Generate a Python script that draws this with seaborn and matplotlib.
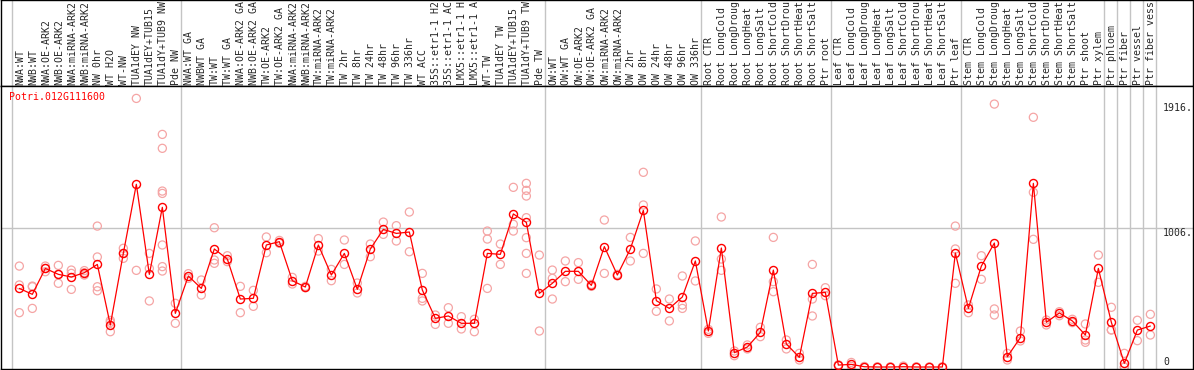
import matplotlib
matplotlib.use("Agg")  # Non-interactive backend
import matplotlib.pyplot as plt
import matplotlib.transforms as mtransforms
import seaborn as sns
import pandas as pd
import numpy as np

# ── Data ──────────────────────────────────────────────────────────
GENE = "Potri.012G111600"

# names as printed in the (narrow) header strip
samples = [
    "NWA:WT", "NWB:WT", "NWA:OE-ARK2", "NWB:OE-ARK2", "NWA:miRNA-ARK2", "NWB:miRNA-ARK2",
    "NW 0hr", "WT H2O", "WT-NW", "TUA1dEY NW", "TUA1dEY+TUB15", "TUA1dY+TUB9 NW", "Pde NW",
    "NWA:WT GA", "NWBWT GA", "TW:WT", "TW:WT GA", "NWA:OE-ARK2 GA", "NWB:OE-ARK2 GA",
    "TW:OE-ARK2", "TW:OE-ARK2 GA", "NWA:miRNA-ARK2", "NWB:miRNA-ARK2", "TW:miRNA-ARK2",
    "TW:miRNA-ARK2", "TW 2hr", "TW 8hr", "TW 24hr", "TW 48hr", "TW 96hr", "TW 336hr", "WT ACC",
    "35S::etr1-1 H2", "35S::etr1-1 AC", "LMX5::etr1-1 H", "LMX5::etr1-1 A", "WT-TW",
    "TUA1dEY TW", "TUA1dEY+TUB15", "TUA1dY+TUB9 TW", "Pde TW",
    "OW:WT", "OW:WT GA", "OW:OE-ARK2", "OW:OE-ARK2 GA", "OW:miRNA-ARK2", "OW:miRNA-ARK2",
    "OW 2hr", "OW 8hr", "OW 24hr", "OW 48hr", "OW 96hr", "OW 336hr",
    "Root CTR", "Root LongCold", "Root LongDroug", "Root LongHeat", "Root LongSalt",
    "Root ShortCold", "Root ShortDrou", "Root ShortHeat", "Root ShortSalt", "Ptr root",
    "Leaf CTR", "Leaf LongCold", "Leaf LongDroug", "Leaf LongHeat", "Leaf LongSalt",
    "Leaf ShortCold", "Leaf ShortDrou", "Leaf ShortHeat", "Leaf ShortSalt", "Ptr leaf",
    "Stem CTR", "Stem LongCold", "Stem LongDroug", "Stem LongHeat", "Stem LongSalt",
    "Stem ShortCold", "Stem ShortDrou", "Stem ShortHeat", "Stem ShortSalt", "Ptr shoot",
    "Ptr xylem", "Ptr phloem", "Ptr fiber", "Ptr vessel", "Ptr fiber vess",
]

group_sizes = [13, 28, 12, 10, 10, 11, 1, 1, 1, 1]

mean_expr = [
    570, 527, 715, 672, 653, 684, 744, 305, 824, 1325, 672, 1158, 389,
    660, 570, 856, 783, 493, 498, 885, 909, 626, 580, 885, 667, 824, 563, 856, 998, 969,
    979, 558, 353, 370, 317, 317, 824, 817, 1110, 1049, 534,
    607, 694, 694, 592, 873, 667, 856, 1136, 481, 425, 508, 769,
    261, 863, 104, 145, 251, 703, 167, 70, 534, 541,
    14, 19, 2, 0, 0, 2, 0, 0, 0, 827,
    425, 732, 899, 75, 213, 1332, 324, 392, 334, 232,
    715, 324, 27, 268, 297,
]

replicates = [
    [732, 595, 394], [587, 582, 425], [732, 715, 691], [737, 672, 607], [703, 679, 563],
    [699, 684, 667], [1022, 798, 582, 553], [338, 324, 256], [861, 824, 788], [1948, 701],
    [824, 715, 479], [1687, 1586, 1276, 1259, 885, 728, 696], [462, 317],
    [677, 643], [631, 522], [1010, 776, 752], [807, 764], [585, 394], [556, 440],
    [943, 829], [918, 897], [650, 602], [585, 575], [931, 841], [708, 626], [921, 744],
    [609, 537], [892, 800], [1051, 962], [1025, 914], [1124, 836], [679, 498, 479],
    [377, 309], [430, 317], [365, 276], [346, 256], [986, 928, 570], [892, 744],
    [1303, 1035, 986], [1332, 1281, 1240, 1083, 938, 824, 679], [812, 261],
    [703, 643, 493], [769, 619], [757, 636], [599, 585], [1066, 679], [672, 662],
    [940, 769], [1412, 1175, 824], [566, 404], [493, 334], [660, 450, 425], [914, 624],
    [273, 244], [1088, 783, 701], [116, 82], [160, 131], [288, 220], [940, 619, 546],
    [196, 131], [99, 51], [744, 493, 370], [575, 517],
    [16, 12], [33, 5], [4, 0], [1, 0], [1, 0], [7, 0], [1, 0], [0, 0], [1, 0],
    [1022, 856, 607],
    [450, 394], [807, 636], [1907, 421, 377], [99, 51], [261, 189], [1811, 1267, 926],
    [341, 305], [401, 372], [346, 322], [312, 196, 179],
    [812, 614], [433, 270, 268], [99, 0, 0], [339, 191], [382, 232],
]

y_ticks = [0, 1006, 1916]
y_tick_labels = ["0", "1006.", "1916."]

# ── Style ─────────────────────────────────────────────────────────
sns.set_style("white")
plt.rcParams["font.family"] = ["DejaVu Sans Mono"]
FS = 7.1
RED = "#ff0000"
PINK = "#f5a5a5"
GRID = "#c4c4c4"
W, H = 1194, 370

x = np.arange(len(samples))
mean_df = pd.DataFrame({"idx": x, "expr": mean_expr})
rep_df = pd.DataFrame(
    [(i, v) for i, vals in enumerate(replicates) for v in vals], columns=["idx", "expr"]
)
bounds = np.concatenate([[0], np.cumsum(group_sizes)]) - 0.6

fig = plt.figure(figsize=(W / 100, H / 100), dpi=100)
ax_lab = fig.add_axes([1 / W, 284 / H, 1192 / W, 86 / H])
ax = fig.add_axes([1 / W, 1 / H, 1192 / W, 283 / H])

xlim = (-1.41, 90.28)
for a in (ax, ax_lab):
    a.set_xlim(*xlim)
    a.set_xticks([])
    a.set_yticks([])
    for s in a.spines.values():
        s.set_color("black")
        s.set_linewidth(1.0)
    for b in bounds:
        a.axvline(b, color=GRID, lw=1.0, zorder=0)
ax_lab.set_ylim(0, 1)
ax.set_ylim(-14.5, 2038)
ax.axhline(1006, color=GRID, lw=1.0, zorder=0)

# replicate points
sns.scatterplot(data=rep_df, x="idx", y="expr", ax=ax, s=34, marker="o",
                legend=False, zorder=2)
pts = ax.collections[-1]
pts.set_facecolor("none")
pts.set_edgecolor(PINK)
pts.set_linewidth(0.9)

# mean profile
sns.lineplot(data=mean_df, x="idx", y="expr", ax=ax, color=RED, linewidth=0.9,
             marker="o", markersize=5.8, markerfacecolor="none", markeredgecolor=RED,
             markeredgewidth=1.0, estimator=None, sort=False, zorder=3)
ax.set_xlim(*xlim)
ax.set_xlabel("")
ax.set_ylabel("")
ax.set_xticks([])
ax.set_yticks([])

# sample names
lab_tr = mtransforms.blended_transform_factory(ax_lab.transData, ax_lab.transAxes)
for i, name in enumerate(samples):
    ax_lab.text(i + 0.05, 1 / 86, name, transform=lab_tr, rotation=90, ha="center",
                va="bottom", fontsize=FS, clip_on=True)

# value labels on the right
val_tr = mtransforms.blended_transform_factory(ax.transAxes, ax.transData)
for v, t in zip(y_ticks, y_tick_labels):
    ax.text(0.9748, v, t, transform=val_tr, ha="left",
            va="bottom" if v == 0 else "top", fontsize=FS)

fig.text(9 / W, 1 - 97 / H, GENE, color=RED, ha="left", va="center", fontsize=FS)

fig.savefig("out.png", dpi=100)
